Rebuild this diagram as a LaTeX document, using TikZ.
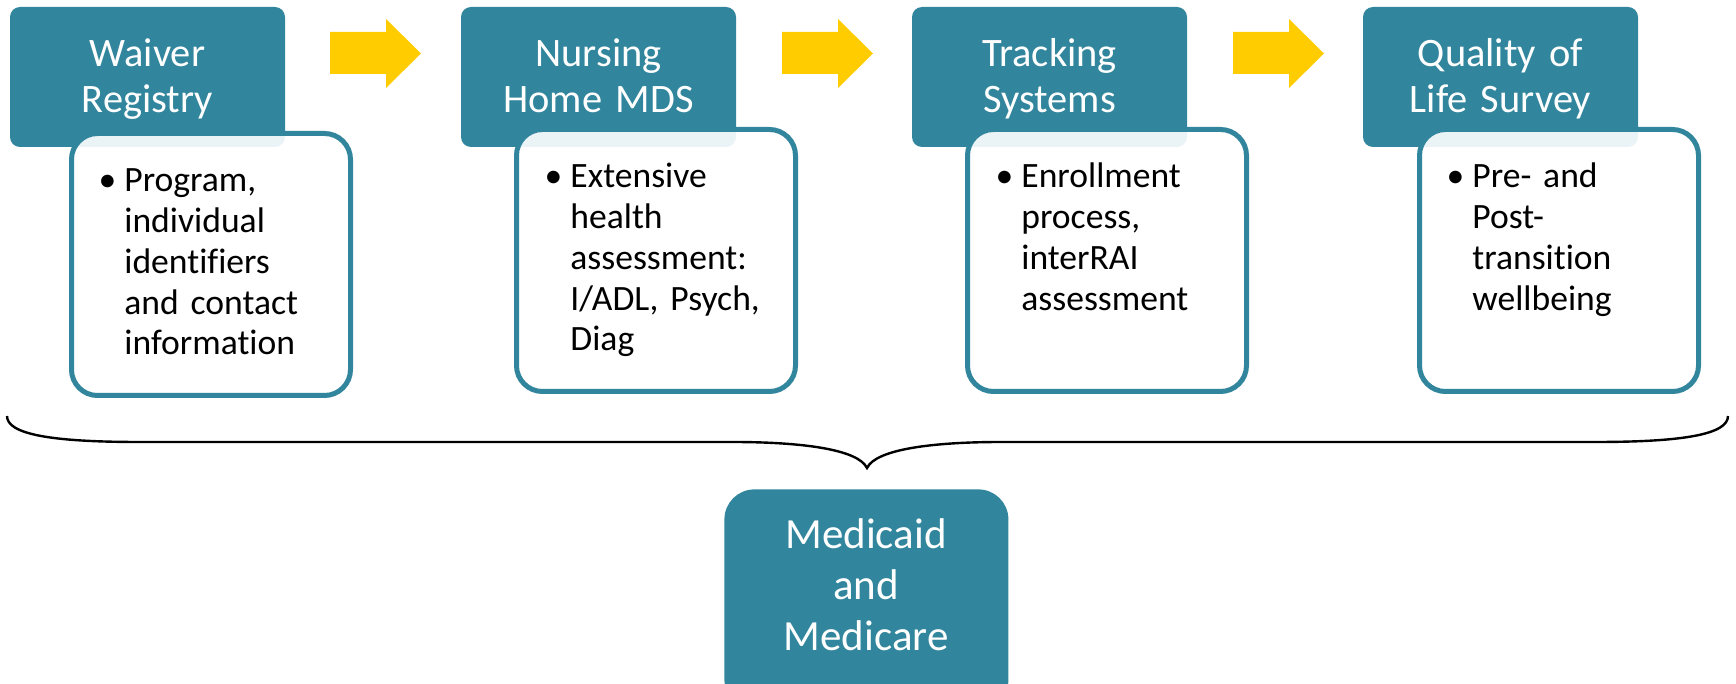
\documentclass[tikz,border=0pt]{standalone}
\usepackage{fontspec}
\setmainfont{Carlito}[Ligatures=NoCommon, WordSpace=0.85]
\definecolor{tealA}{HTML}{31859C}
\definecolor{goldA}{HTML}{FFCC00}
\begin{document}
\begin{tikzpicture}[x=0.5pt,y=-0.5pt,
  hdr/.style={fill=tealA, rounded corners=5pt, minimum width=137.5pt, minimum height=70pt, anchor=north west, inner sep=0pt, outer sep=0pt},
  card/.style={draw=tealA, line width=2.5pt, fill=white, fill opacity=0.9, rounded corners=13pt, minimum width=139.5pt, minimum height=131pt, anchor=north west, inner sep=0pt, outer sep=0pt},
  htext/.style={text=white, font=\fontsize{20.2}{23}\selectfont, align=center, text width=135pt, anchor=base, inner sep=0pt},
  btext/.style={text=black, font=\fontsize{17.8}{20.35}\selectfont, align=left, text width=125pt, anchor=base west, inner sep=0pt},
  mtext/.style={text=white, font=\fontsize{21.5}{25.5}\selectfont, align=center, text width=135pt, anchor=base, inner sep=0pt},
  bigbox/.style={fill=tealA, rounded corners=15pt, minimum width=142pt, minimum height=110pt, anchor=north west, inner sep=0pt},
  blockarrow/.style={fill=goldA},
  bracestyle/.style={draw=black, line width=1.2pt}]
\useasboundingbox (0,0) rectangle (1736,684);
\clip (0,0) rectangle (1736,684);

% headers
\node[hdr] (h1) at (10,7) {};
\node[hdr] (h2) at (461,7) {};
\node[hdr] (h3) at (912,7) {};
\node[hdr] (h4) at (1363,7) {};

% cards
\node[card] (c1) at (71.5,133.5) {};
\node[card] (c2) at (516.5,129.5) {};
\node[card] (c3) at (967.5,129.5) {};
\node[card] (c4) at (1419.5,129.5) {};

% header texts
\node[htext] (t1) at (147.5,67) {Waiver\\Registry};
\node[htext] (t2) at (598.5,67) {Nursing\\Home MDS};
\node[htext] (t3) at (1049.5,67) {Tracking\\Systems};
\node[htext] (t4) at (1500.5,67) {Quality of\\Life Survey};

% body texts
\node[btext] (b1) at (124,192) {\llap{•\hspace{4pt}}Program,\\individual\\identifiers\\and contact\\information};
\node[btext] (b2) at (570,188) {\llap{•\hspace{4pt}}Extensive\\health\\assessment:\\I/ADL, Psych,\\Diag};
\node[btext] (b3) at (1021,188) {\llap{•\hspace{4pt}}Enrollment\\process,\\interRAI\\assessment};
\node[btext] (b4) at (1472,188) {\llap{•\hspace{4pt}}Pre- and\\Post-\\transition\\wellbeing};

% block arrows
\foreach \dx/\nm in {0/a1,452/a2,903/a3}{
  \coordinate (\nm) at (330+\dx,53.5);
  \fill[blockarrow] (330+\dx,32) -- (386+\dx,32) -- (386+\dx,19) -- (421+\dx,53.5) -- (386+\dx,88) -- (386+\dx,74) -- (330+\dx,74) -- cycle;
}

% brace
\coordinate (bl) at (7,416);
\coordinate (br) at (1728,416);
\coordinate (tip) at (867,468);
\draw[bracestyle] (bl) .. controls (7,434) and (50,442) .. (140,442) -- (733,442)
  .. controls (800,442) and (858,449) .. (tip)
  .. controls (876,449) and (934,442) .. (1001,442) -- (1595,442)
  .. controls (1685,442) and (1728,434) .. (br);

% bottom box
\node[bigbox] (m) at (724,489) {};
\node[mtext] (mt) at (866,548) {Medicaid\\and\\Medicare};
\end{tikzpicture}
\end{document}
